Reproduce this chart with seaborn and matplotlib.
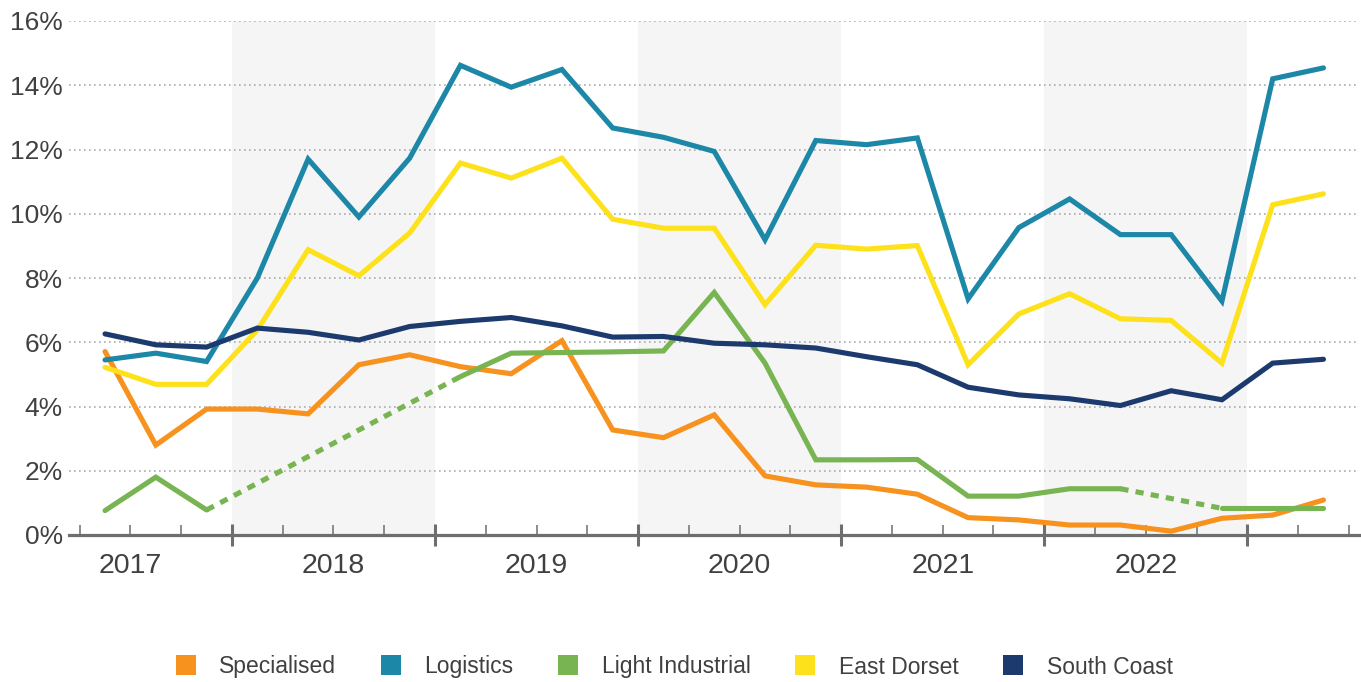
import numpy as np
import pandas as pd
import matplotlib
matplotlib.use("Agg")
import matplotlib.pyplot as plt
from matplotlib.lines import Line2D
from matplotlib.transforms import blended_transform_factory
import seaborn as sns

# Quarterly series, 2017 Q2 to 2023 Q2 (values in %)
years = [2017, 2018, 2019, 2020, 2021, 2022]
quarters = ["2017Q2", "2017Q3", "2017Q4",
            "2018Q1", "2018Q2", "2018Q3", "2018Q4",
            "2019Q1", "2019Q2", "2019Q3", "2019Q4",
            "2020Q1", "2020Q2", "2020Q3", "2020Q4",
            "2021Q1", "2021Q2", "2021Q3", "2021Q4",
            "2022Q1", "2022Q2", "2022Q3", "2022Q4",
            "2023Q1", "2023Q2"]

specialised = [5.71, 2.80, 3.92, 3.92, 3.77, 5.30, 5.61, 5.24, 5.02, 6.05,
               3.27, 3.03, 3.74, 1.84, 1.56, 1.49, 1.27, 0.54, 0.47, 0.31,
               0.31, 0.12, 0.52, 0.62, 1.09]
logistics = [5.45, 5.66, 5.40, 8.00, 11.70, 9.90, 11.73, 14.62, 13.94, 14.49,
             12.67, 12.38, 11.94, 9.19, 12.28, 12.15, 12.36, 7.35, 9.57, 10.46,
             9.35, 9.35, 7.28, 14.20, 14.54]
light_industrial = [0.76, 1.80, 0.78, np.nan, np.nan, np.nan, np.nan, 4.93, 5.66, 5.68,
                    5.70, 5.73, 7.55, 5.35, 2.34, 2.34, 2.35, 1.21, 1.21, 1.44,
                    1.44, np.nan, 0.83, 0.83, 0.83]
east_dorset = [5.22, 4.69, 4.69, 6.38, 8.88, 8.07, 9.40, 11.58, 11.11, 11.73,
               9.83, 9.55, 9.55, 7.17, 9.02, 8.90, 9.01, 5.30, 6.88, 7.51,
               6.73, 6.68, 5.35, 10.28, 10.62]
south_coast = [6.26, 5.92, 5.85, 6.44, 6.31, 6.07, 6.49, 6.65, 6.77, 6.51,
               6.16, 6.18, 5.97, 5.92, 5.82, 5.55, 5.30, 4.60, 4.36, 4.24,
               4.03, 4.49, 4.21, 5.35, 5.47]

series_names = ["Specialised", "Logistics", "Light Industrial", "East Dorset", "South Coast"]
series_values = [specialised, logistics, light_industrial, east_dorset, south_coast]
colors = ["#F7921E", "#1D87A7", "#78B451", "#FDE11B", "#1D3A6F"]
palette = dict(zip(series_names, colors))

TEXT = "#404040"
AXIS = "#6E6E6E"
FONT = "Liberation Sans"


def quarter_pos(label):
    # quarter centre, measured in quarters from the start of 2017
    y, q = int(label[:4]), int(label[-1])
    return (y - years[0]) * 4 + (q - 1) + 0.5


xpos = [quarter_pos(q) for q in quarters]

# Long-form table; contiguous runs of data get their own segment id
rows = []
for name, vals in zip(series_names, series_values):
    seg = 0
    prev_nan = False
    for x, v in zip(xpos, vals):
        if np.isnan(v):
            prev_nan = True
            continue
        if prev_nan:
            seg += 1
            prev_nan = False
        rows.append({"pos": x, "value": v, "series": name, "segment": f"{name}-{seg}"})
df = pd.DataFrame(rows)

# Dotted bridges across missing quarters
bridge_rows = []
li = light_industrial
i = 0
bid = 0
while i < len(li):
    if np.isnan(li[i]):
        j = i
        while j < len(li) and np.isnan(li[j]):
            j += 1
        if i > 0 and j < len(li):
            bridge_rows.append({"pos": xpos[i - 1], "value": li[i - 1], "bridge": bid})
            bridge_rows.append({"pos": xpos[j], "value": li[j], "bridge": bid})
            bid += 1
        i = j
    else:
        i += 1
bridges = pd.DataFrame(bridge_rows)

sns.set_theme(style="white")
plt.rcParams["font.family"] = [FONT, "DejaVu Sans"]

fig = plt.figure(figsize=(13.61, 6.82), dpi=100)
ax = fig.add_axes([69 / 1361, 1 - 535 / 682, (1359 - 69) / 1361, (535 - 21) / 682])

# Alternate year shading
for k, yr in enumerate(years):
    if k % 2 == 1:
        start = (yr - years[0]) * 4
        ax.axvspan(start, start + 4, color="#F5F5F5", zorder=0, lw=0)

# Horizontal dotted gridlines
yticks = np.arange(0, 17, 2)
for yv in yticks[1:]:
    ax.axhline(yv, color="#ABABAB", lw=1.2, ls=(0, (1, 2)), zorder=1)

sns.lineplot(data=bridges, x="pos", y="value", units="bridge", estimator=None,
             color=palette["Light Industrial"], lw=3.7, ls=(0, (1.6, 1.4)),
             dash_capstyle="butt", ax=ax, zorder=3, legend=False, sort=False)

for name in series_names:
    sub = df[df["series"] == name]
    sns.lineplot(data=sub, x="pos", y="value", units="segment", estimator=None,
                 color=palette[name], lw=3.7, ax=ax, zorder=4, legend=False,
                 sort=False, solid_capstyle="round", solid_joinstyle="miter")

ax.set_xlim(0.79, 26.2)
ax.set_ylim(0, 16)
ax.set_xlabel("")
ax.set_ylabel("")

for side in ["top", "right", "left"]:
    ax.spines[side].set_visible(False)
ax.spines["bottom"].set_color(AXIS)
ax.spines["bottom"].set_linewidth(2.3)
ax.spines["bottom"].set_zorder(5)

major = [(yr - years[0]) * 4 for yr in years[1:]] + [(years[-1] + 1 - years[0]) * 4]
minor = [q for q in range(1, 27) if q not in major]
ax.set_xticks(major)
ax.set_xticks(minor, minor=True)
ax.set_xticklabels([])
ax.tick_params(axis="x", which="major", direction="inout", length=16.5, width=2.2,
               color=AXIS, bottom=True)
ax.tick_params(axis="x", which="minor", direction="in", length=7.2, width=1.1,
               color=AXIS, bottom=True)

ax.set_yticks(yticks)
ax.set_yticklabels([f"{v}%" for v in yticks], fontsize=19, color=TEXT, family=FONT)
ax.tick_params(axis="y", length=0, pad=4.5)
ax.grid(False)

# Year labels centred under each year
trans = blended_transform_factory(ax.transData, ax.transAxes)
for yr in years:
    centre = (yr - years[0]) * 4 + 2
    ax.text(centre, -0.060, str(yr), transform=trans, ha="center", va="center",
            fontsize=20.5, color=TEXT, family=FONT)

handles = [Line2D([], [], marker="s", ls="none", markersize=14.4, color=c,
                  markeredgewidth=0) for c in colors]
fig.legend(handles, series_names, loc="center", bbox_to_anchor=(674 / 1361, 1 - 667 / 682),
           ncol=5, frameon=False, handlelength=0.9, handletextpad=1.0,
           columnspacing=1.95, prop={"family": FONT, "size": 16.5},
           labelcolor=TEXT)

fig.savefig("out.png", dpi=100)
